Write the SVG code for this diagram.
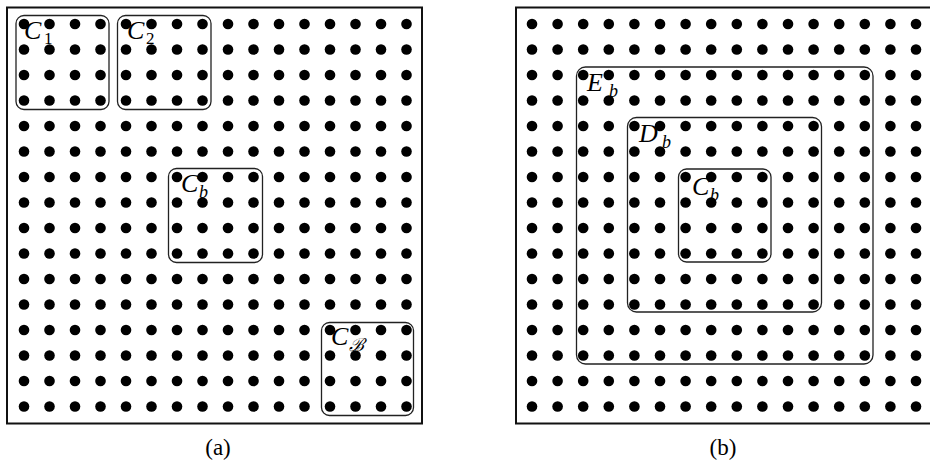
<svg xmlns="http://www.w3.org/2000/svg" xmlns:xlink="http://www.w3.org/1999/xlink" width="930" height="462" viewBox="0 0 930 462">
<style>
.frame{fill:none;stroke:#111;stroke-width:2}
.box{fill:none;stroke:#222;stroke-width:1.3}
.dot{fill:#000}
</style>
<defs>
<g id="rowA">
<circle class="dot" cx="24" cy="0" r="5.3"/><circle class="dot" cx="49.5" cy="0" r="5.3"/><circle class="dot" cx="75" cy="0" r="5.3"/><circle class="dot" cx="100.5" cy="0" r="5.3"/>
<circle class="dot" cx="126" cy="0" r="5.3"/><circle class="dot" cx="151.5" cy="0" r="5.3"/><circle class="dot" cx="177" cy="0" r="5.3"/><circle class="dot" cx="202.5" cy="0" r="5.3"/>
<circle class="dot" cx="228" cy="0" r="5.3"/><circle class="dot" cx="253.5" cy="0" r="5.3"/><circle class="dot" cx="279" cy="0" r="5.3"/><circle class="dot" cx="304.5" cy="0" r="5.3"/>
<circle class="dot" cx="330" cy="0" r="5.3"/><circle class="dot" cx="355.5" cy="0" r="5.3"/><circle class="dot" cx="381" cy="0" r="5.3"/><circle class="dot" cx="406.5" cy="0" r="5.3"/>
</g>
<g id="rowB">
<circle class="dot" cx="532" cy="0" r="5.3"/><circle class="dot" cx="557.6" cy="0" r="5.3"/><circle class="dot" cx="583.2" cy="0" r="5.3"/><circle class="dot" cx="608.8" cy="0" r="5.3"/>
<circle class="dot" cx="634.4" cy="0" r="5.3"/><circle class="dot" cx="660" cy="0" r="5.3"/><circle class="dot" cx="685.6" cy="0" r="5.3"/><circle class="dot" cx="711.2" cy="0" r="5.3"/>
<circle class="dot" cx="736.8" cy="0" r="5.3"/><circle class="dot" cx="762.4" cy="0" r="5.3"/><circle class="dot" cx="788" cy="0" r="5.3"/><circle class="dot" cx="813.6" cy="0" r="5.3"/>
<circle class="dot" cx="839.2" cy="0" r="5.3"/><circle class="dot" cx="864.8" cy="0" r="5.3"/><circle class="dot" cx="890.4" cy="0" r="5.3"/><circle class="dot" cx="916" cy="0" r="5.3"/>
</g>
</defs>
<rect width="930" height="462" fill="#fff"/>
<g id="panelA">
<rect class="frame" x="7" y="7.5" width="415" height="416"/>
<g id="gridA">
<use xlink:href="#rowA" y="24"/><use xlink:href="#rowA" y="49.5"/><use xlink:href="#rowA" y="75"/><use xlink:href="#rowA" y="100.5"/>
<use xlink:href="#rowA" y="126"/><use xlink:href="#rowA" y="151.5"/><use xlink:href="#rowA" y="177"/><use xlink:href="#rowA" y="202.5"/>
<use xlink:href="#rowA" y="228"/><use xlink:href="#rowA" y="253.5"/><use xlink:href="#rowA" y="279"/><use xlink:href="#rowA" y="304.5"/>
<use xlink:href="#rowA" y="330"/><use xlink:href="#rowA" y="355.5"/><use xlink:href="#rowA" y="381"/><use xlink:href="#rowA" y="406.5"/>
</g>
<g font-family="'Liberation Serif', 'DejaVu Serif', serif" fill="#000">
<g id="C1"><rect class="box" x="16" y="15.5" width="93" height="94" rx="8"/><text x="24" y="39" font-size="26" font-style="italic">C</text><text x="44" y="44" font-size="17">1</text></g>
<g id="C2"><rect class="box" x="117.5" y="15.5" width="93.5" height="94" rx="8"/><text x="127" y="39" font-size="26" font-style="italic">C</text><text x="146" y="44" font-size="17">2</text></g>
<g id="Cb_a"><rect class="box" x="168.5" y="168.5" width="94" height="94" rx="8"/><text x="181" y="192" font-size="26" font-style="italic">C</text><text x="199" y="198" font-size="18" font-style="italic">b</text></g>
<g id="CB"><rect class="box" x="321.5" y="322.5" width="92" height="93" rx="8"/><text x="331" y="345" font-size="26" font-style="italic">C</text><text x="349" y="351" font-size="18" font-style="italic">ℬ</text></g>
<text x="218" y="455" font-size="23" text-anchor="middle">(a)</text>
</g>
</g>
<g id="panelB">
<rect class="frame" x="516" y="7.5" width="420" height="416"/>
<g id="gridB">
<use xlink:href="#rowB" y="24"/><use xlink:href="#rowB" y="49.5"/><use xlink:href="#rowB" y="75"/><use xlink:href="#rowB" y="100.5"/>
<use xlink:href="#rowB" y="126"/><use xlink:href="#rowB" y="151.5"/><use xlink:href="#rowB" y="177"/><use xlink:href="#rowB" y="202.5"/>
<use xlink:href="#rowB" y="228"/><use xlink:href="#rowB" y="253.5"/><use xlink:href="#rowB" y="279"/><use xlink:href="#rowB" y="304.5"/>
<use xlink:href="#rowB" y="330"/><use xlink:href="#rowB" y="355.5"/><use xlink:href="#rowB" y="381"/><use xlink:href="#rowB" y="406.5"/>
</g>
<g font-family="'Liberation Serif', 'DejaVu Serif', serif" fill="#000">
<g id="Eb"><rect class="box" x="576.5" y="67" width="296.5" height="297" rx="9"/><text x="587" y="91" font-size="26" font-style="italic">E</text><text x="609" y="97" font-size="18" font-style="italic">b</text></g>
<g id="Db"><rect class="box" x="627.5" y="117.5" width="194" height="194.5" rx="9"/><text x="639" y="142" font-size="26" font-style="italic">D</text><text x="662" y="148" font-size="18" font-style="italic">b</text></g>
<g id="Cb_b"><rect class="box" x="678.5" y="169" width="92.5" height="93" rx="8"/><text x="692" y="195" font-size="26" font-style="italic">C</text><text x="710" y="201" font-size="18" font-style="italic">b</text></g>
<text x="723" y="455" font-size="23" text-anchor="middle">(b)</text>
</g>
</g>
<g id="connectors"/>
</svg>
